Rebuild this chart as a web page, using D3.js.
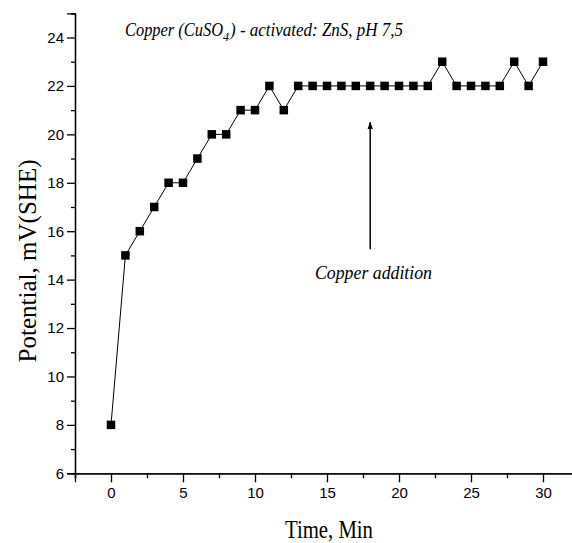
<!DOCTYPE html>
<html>
<head>
<meta charset="utf-8">
<script src="https://cdn.jsdelivr.net/npm/d3@7"></script>
<style>
  body { margin: 0; background: #fff; }
  svg { display: block; }
</style>
</head>
<body>
<div id="chart"></div>
<script>
// data
const times = [0, 1, 2, 3, 4, 5, 6, 7, 8, 9, 10, 11, 12, 13, 14, 15, 16, 17, 18, 19, 20,
  21, 22, 23, 24, 25, 26, 27, 28, 29, 30];
const potentials = [8, 15, 16, 17, 18, 18, 19, 20, 20, 21, 21, 22, 21, 22, 22, 22, 22, 22, 22, 22, 22,
  22, 22, 23, 22, 22, 22, 22, 23, 22, 23];
const xTicks = [0, 5, 10, 15, 20, 25, 30];
const yTicks = [6, 8, 10, 12, 14, 16, 18, 20, 22, 24];
const arrowAt = { time: 18, from: 15.25, to: 20.5 };

/**
 * Draw the chart
 */
function drawChart() {
  const WIDTH = 572;
  const HEIGHT = 543;

  const svg = d3.select('#chart').append('svg')
    .attr('width', WIDTH)
    .attr('height', HEIGHT);

  const x = d3.scaleLinear().domain([-2.5, 32.5]).range([75, 579]);
  const y = d3.scaleLinear().domain([6, 25]).range([473.3, 13.3]);

  // axes
  const xAxis = d3.axisBottom(x).tickValues(xTicks).tickSize(9).tickPadding(5);
  const xMinor = d3.axisBottom(x).tickValues(d3.range(-2.5, 32.5, 2.5).filter(v => v % 5 !== 0))
    .tickSize(5).tickFormat('');
  const yAxis = d3.axisLeft(y).tickValues(yTicks).tickSize(8).tickPadding(3);
  const yMinor = d3.axisLeft(y).tickValues(d3.range(7, 26, 2)).tickSize(4).tickFormat('');

  const gx = svg.append('g').attr('transform', 'translate(0,' + y(6) + ')');
  gx.call(xAxis);
  gx.append('g').call(xMinor);
  const gy = svg.append('g').attr('transform', 'translate(' + x(-2.5) + ',0)');
  gy.call(yAxis);
  gy.append('g').call(yMinor);

  svg.selectAll('.domain').attr('stroke', '#000').attr('stroke-width', 1.3);
  svg.selectAll('.tick line').attr('stroke', '#000').attr('stroke-width', 1.3);
  svg.selectAll('.tick text')
    .attr('fill', '#000')
    .style('font-family', '"Liberation Sans", Arial, sans-serif')
    .style('font-size', '15px');

  // line + markers
  const pts = times.map((t, i) => [t, potentials[i]]);
  const line = d3.line().x(d => x(d[0])).y(d => y(d[1]));

  svg.append('path')
    .datum(pts)
    .attr('fill', 'none')
    .attr('stroke', '#000')
    .attr('stroke-width', 1)
    .attr('d', line);

  const S = 8.5;
  svg.append('g').selectAll('rect')
    .data(pts)
    .join('rect')
      .attr('x', d => x(d[0]) - S / 2)
      .attr('y', d => y(d[1]) - S / 2)
      .attr('width', S)
      .attr('height', S)
      .attr('fill', '#000');

  // arrow
  svg.append('defs').append('marker')
    .attr('id', 'head')
    .attr('viewBox', '0 0 10 10')
    .attr('refX', 9).attr('refY', 5)
    .attr('markerWidth', 5).attr('markerHeight', 8)
    .attr('orient', 'auto')
    .append('path')
      .attr('d', 'M0,1.5 L10,5 L0,8.5 Z')
      .attr('fill', '#000');

  svg.append('line')
    .attr('x1', x(arrowAt.time)).attr('x2', x(arrowAt.time))
    .attr('y1', y(arrowAt.from)).attr('y2', y(arrowAt.to))
    .attr('stroke', '#000')
    .attr('stroke-width', 1.5)
    .attr('marker-end', 'url(#head)');

  const serif = '"Liberation Serif", "Times New Roman", serif';

  const italic = (sel, size) => sel
    .style('font-family', serif)
    .style('font-style', 'italic')
    .style('font-size', size);

  svg.append('text')
    .attr('x', 315).attr('y', 279)
    .attr('textLength', 117)
    .attr('lengthAdjust', 'spacingAndGlyphs')
    .call(italic, '19px')
    .text('Copper addition');

  // title with subscript
  svg.append('text')
    .attr('x', 125).attr('y', 36)
    .attr('textLength', 98)
    .attr('lengthAdjust', 'spacingAndGlyphs')
    .call(italic, '18px')
    .text('Copper (CuSO');
  svg.append('text')
    .attr('x', 223).attr('y', 41)
    .call(italic, '12px')
    .text('4');
  svg.append('text')
    .attr('x', 230).attr('y', 36)
    .attr('textLength', 173)
    .attr('lengthAdjust', 'spacingAndGlyphs')
    .call(italic, '18px')
    .text(') - activated: ZnS, pH 7,5');

  // axis titles
  svg.append('text')
    .attr('x', 329).attr('y', 538)
    .attr('text-anchor', 'middle')
    .attr('textLength', 88)
    .attr('lengthAdjust', 'spacingAndGlyphs')
    .style('font-family', serif)
    .style('font-size', '25px')
    .text('Time, Min');

  svg.append('text')
    .attr('transform', 'translate(36,261) rotate(-90)')
    .attr('text-anchor', 'middle')
    .attr('textLength', 203)
    .attr('lengthAdjust', 'spacingAndGlyphs')
    .style('font-family', serif)
    .style('font-size', '25px')
    .text('Potential, mV(SHE)');
}

/**
 * Entry point
 */
(function main() {
  drawChart();
})();
</script>
</body>
</html>
